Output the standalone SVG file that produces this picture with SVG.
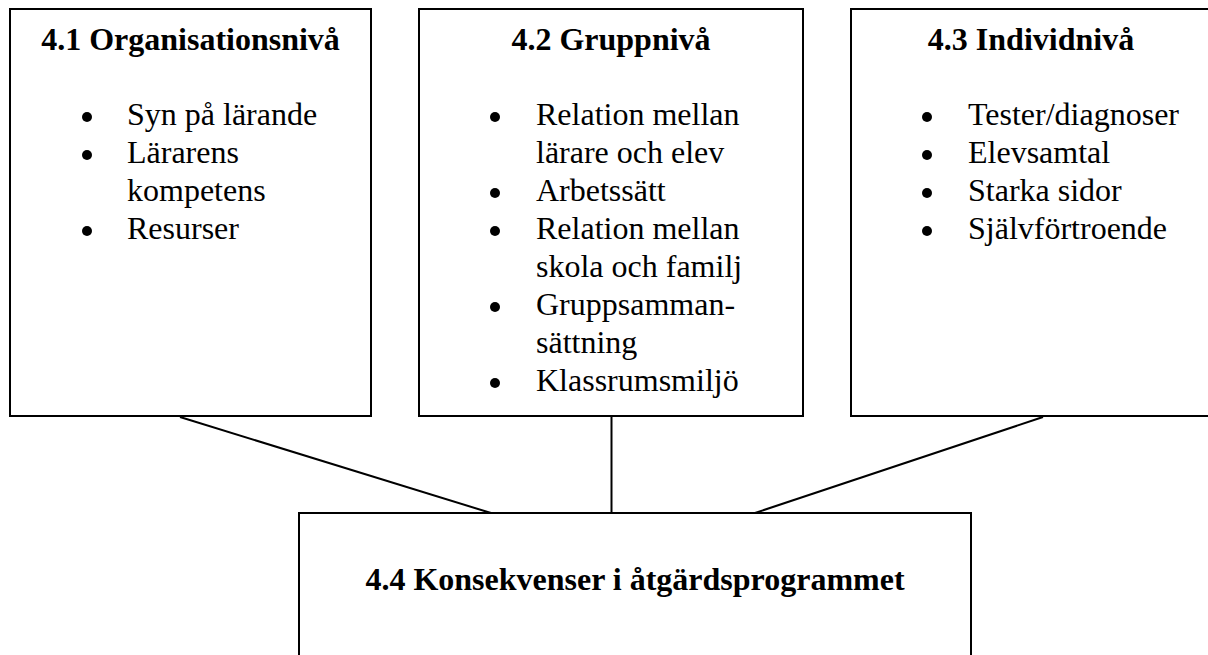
<svg xmlns="http://www.w3.org/2000/svg" width="1208" height="655" viewBox="0 0 1208 655">
<style>
.box{fill:#fff;stroke:#000;stroke-width:2}
.ln{stroke:#000;stroke-width:2;fill:none}
.t{font-family:"Liberation Serif","Times New Roman",serif;font-size:32px;fill:#000}
.h{font-weight:bold;text-anchor:middle}
.b{fill:#000}
</style>
<rect width="1208" height="655" fill="#fff"/>
<g id="connectors">
<line class="ln" x1="180" y1="417" x2="491" y2="513"/>
<line class="ln" x1="611.5" y1="417" x2="611.5" y2="513"/>
<line class="ln" x1="1043" y1="417" x2="755" y2="513"/>
</g>
<g id="node-4-1">
<rect class="box" x="10" y="9" width="361" height="407"/>
<text class="t h" x="190.5" y="50">4.1 Organisationsnivå</text>
<circle class="b" cx="87" cy="117" r="5"/>
<text class="t" x="127" y="125">Syn på lärande</text>
<circle class="b" cx="87" cy="155" r="5"/>
<text class="t" x="127" y="163">Lärarens</text>
<text class="t" x="127" y="201">kompetens</text>
<circle class="b" cx="87" cy="231" r="5"/>
<text class="t" x="127" y="239">Resurser</text>
</g>
<g id="node-4-2">
<rect class="box" x="419" y="9" width="384" height="407"/>
<text class="t h" x="611" y="50">4.2 Gruppnivå</text>
<circle class="b" cx="495" cy="117" r="5"/>
<text class="t" x="536" y="125">Relation mellan</text>
<text class="t" x="536" y="163">lärare och elev</text>
<circle class="b" cx="495" cy="193" r="5"/>
<text class="t" x="536" y="201">Arbetssätt</text>
<circle class="b" cx="495" cy="231" r="5"/>
<text class="t" x="536" y="239">Relation mellan</text>
<text class="t" x="536" y="277">skola och familj</text>
<circle class="b" cx="495" cy="307" r="5"/>
<text class="t" x="536" y="315">Gruppsamman-</text>
<text class="t" x="536" y="353">sättning</text>
<circle class="b" cx="495" cy="383" r="5"/>
<text class="t" x="536" y="391">Klassrumsmiljö</text>
</g>
<g id="node-4-3">
<rect class="box" x="851" y="9" width="361" height="407"/>
<text class="t h" x="1031" y="50">4.3 Individnivå</text>
<circle class="b" cx="927" cy="117" r="5"/>
<text class="t" x="968" y="125">Tester/diagnoser</text>
<circle class="b" cx="927" cy="155" r="5"/>
<text class="t" x="968" y="163">Elevsamtal</text>
<circle class="b" cx="927" cy="193" r="5"/>
<text class="t" x="968" y="201">Starka sidor</text>
<circle class="b" cx="927" cy="231" r="5"/>
<text class="t" x="968" y="239">Självförtroende</text>
</g>
<g id="node-4-4">
<rect class="box" x="299" y="513" width="672" height="160"/>
<text class="t h" x="635" y="590">4.4 Konsekvenser i åtgärdsprogrammet</text>
</g>
</svg>
